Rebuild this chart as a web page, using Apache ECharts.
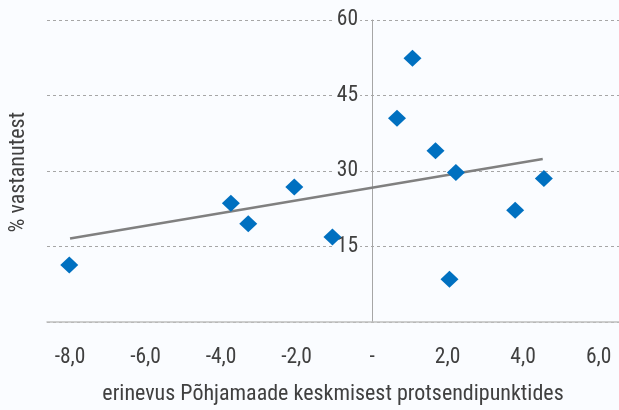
<!DOCTYPE html>
<html>
<head>
<meta charset="utf-8">
<script src="https://cdn.jsdelivr.net/npm/echarts@6/dist/echarts.min.js"></script>
<style>
  html, body { margin: 0; padding: 0; background: #fafcff; }
  #chart { width: 619px; height: 410px; }
</style>
</head>
<body>
<div id="chart"></div>
<script>
// andmed loetud jooniselt
var pointsX = [1.07, 0.66, 1.68, 2.22, 4.55, 3.79, -2.06, -3.74, -3.28, -1.05, -8.02, 2.05]
var pointsY = [52.4, 40.5, 34.0, 29.7, 28.5, 22.2, 26.8, 23.6, 19.5, 16.9, 11.3, 8.5]
var trendX = [-8.0, 4.52]
var trendY = [16.6, 32.4]
var xTicks = [-8, -6, -4, -2, 0, 2, 4, 6]
var yTicks = [0, 15, 30, 45, 60]

var font = '"Roboto Condensed", "Liberation Sans Narrow", Roboto, sans-serif'
var bg = '#fafcff'
var xMin = -8.61, xMax = 6.54
var gridLeft = 47, chartW = 619

var scatterData = pointsX.map(function (x, i) { return [x, pointsY[i]] })
var trendData = trendX.map(function (x, i) { return [x, trendY[i]] })

// y-telg asub x = 0 kohal
var zeroOffset = -(0 - xMin) / (xMax - xMin) * (chartW - gridLeft)

var myChart = echarts.init(document.getElementById('chart'))
var option = {
  backgroundColor: bg,
  animation: false,
  textStyle: { fontFamily: font },
  grid: { left: gridLeft, right: 0, top: 20, bottom: 88 },
  xAxis: {
    type: 'value',
    min: xMin,
    max: xMax,
    name: 'erinevus Põhjamaade keskmisest protsendipunktides',
    nameLocation: 'middle',
    nameGap: 61,
    nameTextStyle: { fontSize: 22, color: '#404040', fontFamily: font },
    axisLine: { show: true, onZero: false, lineStyle: { color: '#bfbfbf', width: 1.5 } },
    axisTick: { show: false },
    splitLine: { show: false },
    axisLabel: {
      customValues: xTicks,
      margin: 25,
      fontSize: 21.5,
      color: '#404040',
      fontFamily: font,
      formatter: function (v) {
        return v === 0 ? '-' : v.toFixed(1).replace('.', ',')
      }
    }
  },
  yAxis: {
    type: 'value',
    min: yTicks[0],
    max: yTicks[yTicks.length - 1],
    interval: 15,
    offset: zeroOffset,
    axisLine: { show: true, onZero: false, lineStyle: { color: '#a6a6a6', width: 1 } },
    axisTick: { show: false },
    splitLine: { show: true, lineStyle: { color: '#a6a6a6', type: [3, 3], width: 1 } },
    axisLabel: {
      showMinLabel: false,
      margin: 12,
      fontSize: 21.5,
      color: '#404040',
      fontFamily: font,
      backgroundColor: bg,
      padding: [0, 2]
    }
  },
  graphic: [{
    type: 'text',
    left: 7,
    top: 112,
    rotation: Math.PI / 2,
    style: { text: '% vastanutest', fontSize: 22, fill: '#404040', fontFamily: font }
  }],
  series: [
    {
      type: 'line',
      data: trendData,
      symbol: 'none',
      lineStyle: { color: '#808080', width: 2.5 },
      z: 2
    },
    {
      type: 'scatter',
      data: scatterData,
      symbol: 'diamond',
      symbolSize: [18, 17],
      itemStyle: { color: '#0070c0', opacity: 1 },
      z: 3
    }
  ]
}
myChart.setOption(option, true)
</script>
</body>
</html>
